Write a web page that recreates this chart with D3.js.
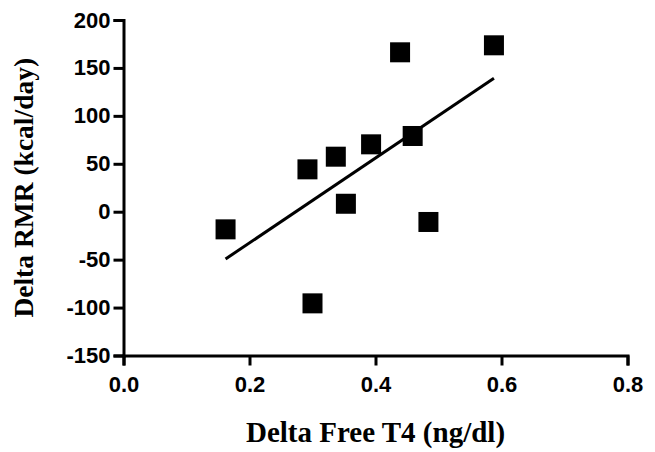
<!DOCTYPE html>
<html>
<head>
<meta charset="utf-8">
<style type="text/css">
body { margin: 0; background: #fff; }
.axis path, .axis line { stroke: #000; stroke-width: 3; }
.axis text { font-family: "Liberation Sans", Arial, sans-serif; font-weight: bold; font-size: 22px; fill: #000; }
.title { font-family: "Liberation Serif", "Times New Roman", serif; font-weight: bold; fill: #000; }
.fitline { stroke: #000; stroke-width: 3; fill: none; }
</style>
<script src="https://d3js.org/d3.v7.min.js"></script>
</head>
<body>
<script type="text/javascript">
// delta free T4 (ng/dl) vs delta RMR (kcal/day)
var freeT4 = [0.162, 0.292, 0.300, 0.337, 0.353, 0.393, 0.439, 0.459, 0.484, 0.588];
var rmr    = [-18.4, 44.2, -95.6, 57.4, 8.3, 70.3, 166.3, 79.0, -10.7, 173.6];
var xTicks = [0, 0.2, 0.4, 0.6, 0.8];
var yTicks = [-150, -100, -50, 0, 50, 100, 150, 200];

var width  = 655;
var height = 452;
var margin = {left: 123.5, top: 20, right: 27.5, bottom: 96.5};

var svg = d3.select("body").append("svg").attr("width", width).attr("height", height);
var g = svg.append("g").attr("transform", "translate(" + margin.left + "," + margin.top + ")");
var w = width - margin.left - margin.right;
var h = height - margin.top - margin.bottom;

var x = d3.scaleLinear().domain([0, 0.8]).range([0, w]);
var y = d3.scaleLinear().domain([-150, 200]).range([h, 0]);

g.append("g").attr("class", "axis")
	.attr("transform", "translate(0," + h + ")")
	.call(d3.axisBottom(x).tickValues(xTicks).tickSizeOuter(0).tickSize(10).tickPadding(11)
		.tickFormat(function(d) { return d.toFixed(1); }));

g.append("g").attr("class", "axis")
	.call(d3.axisLeft(y).tickValues(yTicks).tickSizeOuter(0).tickSize(10).tickPadding(3)
		.tickFormat(function(d) { return String(d); }));

// least squares fit over the data range
var data = freeT4.map(function(d, i) { return {x: d, y: rmr[i]}; });
var mx = d3.mean(freeT4), my = d3.mean(rmr);
var sxy = d3.sum(data, function(d) { return (d.x - mx) * (d.y - my); });
var sxx = d3.sum(data, function(d) { return (d.x - mx) * (d.x - mx); });
var slope = sxy / sxx, icpt = my - slope * mx;
var ext = d3.extent(freeT4);
var line = d3.line().x(function(d) { return x(d); }).y(function(d) { return y(icpt + slope * d); });
g.append("path").datum(ext).attr("class", "fitline").attr("d", line);

var s = 20;
g.selectAll("rect.pt").data(data).enter().append("rect")
	.attr("class", "pt")
	.attr("x", function(d) { return x(d.x) - s / 2; })
	.attr("y", function(d) { return y(d.y) - s / 2; })
	.attr("width", s).attr("height", s)
	.attr("fill", "#000");

svg.append("text").attr("class", "title")
	.attr("x", margin.left + w / 2).attr("y", 442)
	.attr("text-anchor", "middle").style("font-size", "29px")
	.text("Delta Free T4 (ng/dl)");

svg.append("text").attr("class", "title")
	.attr("transform", "translate(33," + (margin.top + h / 2) + ") rotate(-90)")
	.attr("text-anchor", "middle").style("font-size", "27.5px")
	.text("Delta RMR (kcal/day)");
</script>
</body>
</html>
